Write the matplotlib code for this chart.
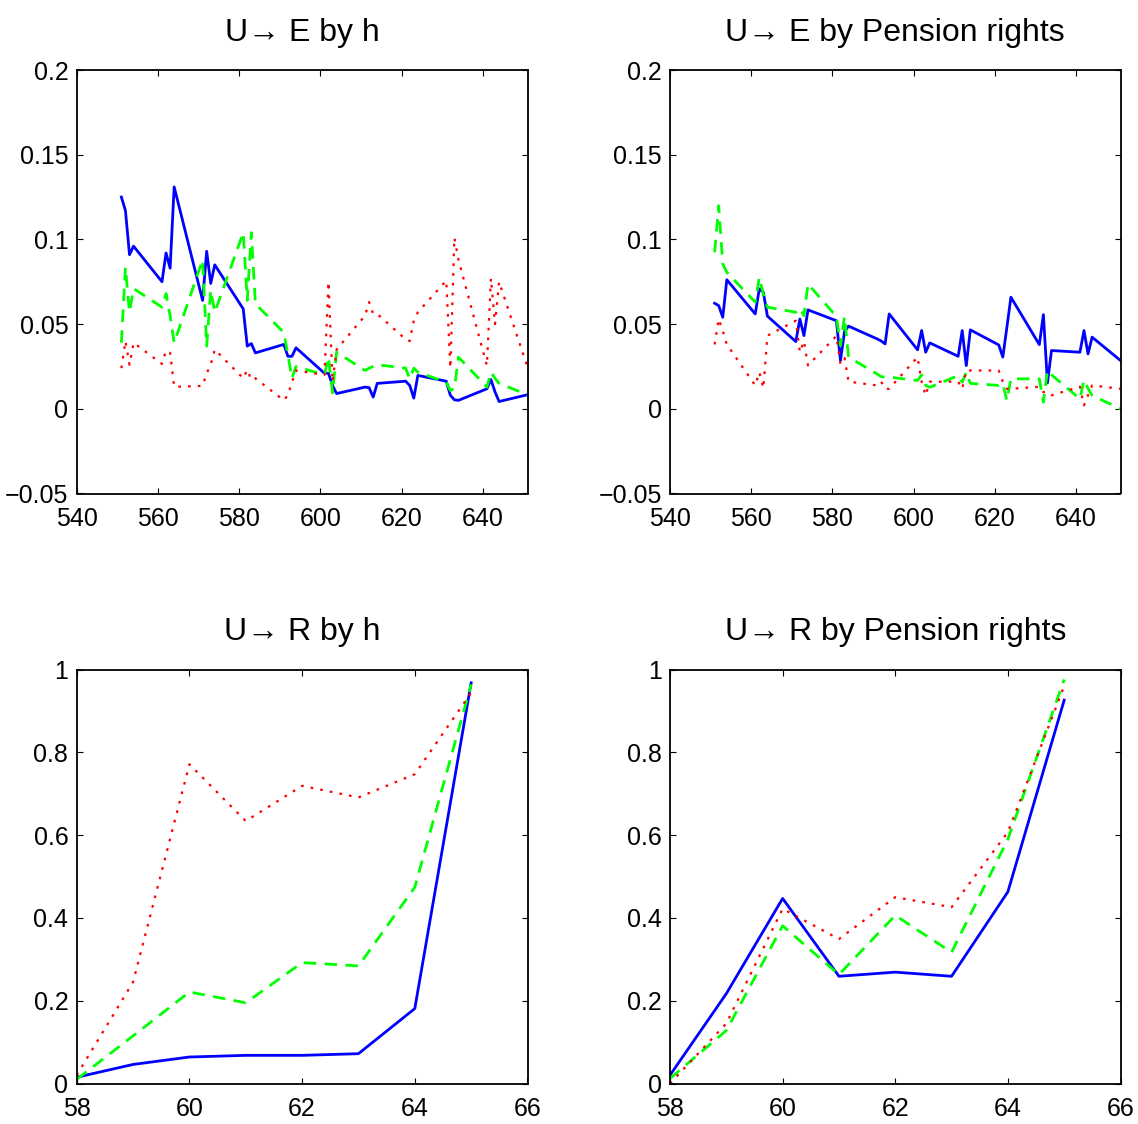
import matplotlib
matplotlib.use("Agg")
import matplotlib.pyplot as plt
import numpy as np

plt.rcParams.update({"font.family": ["Liberation Sans Narrow", "Liberation Sans", "DejaVu Sans"],
                     "font.size": 18, "axes.linewidth": 1.3,
                     "xtick.direction": "in", "ytick.direction": "in",
                     "xtick.top": True, "ytick.right": True,
                     "xtick.major.size": 4, "ytick.major.size": 4})

# ── top panels: duration (months) ─────────────────────────────────────
months = [551, 552, 553, 554, 561, 562, 563, 564, 571, 572, 573, 574,
          581, 582, 583, 584, 591, 592, 593, 594, 601, 602, 603, 604,
          611, 612, 613, 614, 621, 622, 623, 624, 631, 632, 633, 634,
          641, 642, 643, 644, 651]

ue_h_blue = [0.125, 0.117, 0.091, 0.096, 0.075, 0.092, 0.083, 0.131, 0.064, 0.093, 0.074, 0.085,
             0.059, 0.037, 0.0385, 0.033, 0.038, 0.031, 0.031, 0.036, 0.021, 0.021, 0.0137, 0.009,
             0.0128, 0.0125, 0.0069, 0.015, 0.0163, 0.0138, 0.0063, 0.0197, 0.0163, 0.008, 0.0053, 0.005,
             0.0118, 0.0173, 0.010, 0.0043, 0.0083]
ue_h_green = [0.039, 0.0835, 0.057, 0.071, 0.060, 0.068, 0.055, 0.039, 0.088, 0.037, 0.070, 0.057,
              0.104, 0.064, 0.104, 0.062, 0.045, 0.032, 0.018, 0.025, 0.020, 0.0305, 0.0094, 0.0334,
              0.0226, 0.024, 0.025, 0.026, 0.024, 0.0177, 0.024, 0.0216, 0.0157, 0.0108, 0.012, 0.0305,
              0.0128, 0.0216, 0.018, 0.015, 0.0083]
ue_h_red = [0.024, 0.040, 0.026, 0.039, 0.0265, 0.0344, 0.033, 0.013, 0.0135, 0.021, 0.026, 0.035,
            0.018, 0.023, 0.017, 0.018, 0.005, 0.008, 0.0157, 0.0226, 0.020, 0.075, 0.016, 0.035,
            0.055, 0.063, 0.056, 0.056, 0.041, 0.040, 0.052, 0.057, 0.0757, 0.024, 0.101, 0.088,
            0.0255, 0.077, 0.050, 0.075, 0.0246]

ue_p_blue = [0.0623, 0.0609, 0.054, 0.0762, 0.056, 0.0708, 0.0688, 0.0547, 0.0397, 0.053, 0.0432, 0.0584,
             0.052, 0.0285, 0.0456, 0.0488, 0.0413, 0.0401, 0.0383, 0.056, 0.0348, 0.0462, 0.0334, 0.0389,
             0.031, 0.0462, 0.0255, 0.0466, 0.0377, 0.0305, 0.048, 0.0659, 0.0379, 0.0556, 0.0153, 0.0344,
             0.0334, 0.0462, 0.0324, 0.0423, 0.0285]
ue_p_green = [0.0924, 0.1199, 0.0855, 0.0806, 0.063, 0.0776, 0.0678, 0.060, 0.057, 0.0594, 0.055, 0.0737,
              0.0545, 0.0373, 0.0545, 0.0305, 0.0206, 0.019, 0.0187, 0.0187, 0.0167, 0.020, 0.0138, 0.0127,
              0.0196, 0.0157, 0.0216, 0.015, 0.0138, 0.015, 0.0049, 0.0177, 0.0177, 0.0039, 0.0226, 0.020,
              0.0059, 0.017, 0.012, 0.0079, 0.0]
ue_p_red = [0.038, 0.053, 0.046, 0.038, 0.0138, 0.0216, 0.0122, 0.0432, 0.052, 0.0334, 0.040, 0.0256,
            0.043, 0.0265, 0.030, 0.016, 0.0138, 0.016, 0.0118, 0.0118, 0.0305, 0.016, 0.0079, 0.016,
            0.016, 0.0118, 0.0226, 0.0226, 0.0226, 0.016, 0.0118, 0.0118, 0.013, 0.0098, 0.0098, 0.008,
            0.013, 0.002, 0.008, 0.0138, 0.0118]

# ── bottom panels: age ────────────────────────────────────────────────
ages = [58, 59, 60, 61, 62, 63, 64, 65]
ur_h_blue = [0.015, 0.046, 0.064, 0.068, 0.068, 0.072, 0.181, 0.968]
ur_h_green = [0.010, 0.115, 0.221, 0.195, 0.292, 0.284, 0.474, 0.964]
ur_h_red = [0.020, 0.245, 0.771, 0.634, 0.719, 0.691, 0.747, 0.944]
ur_p_blue = [0.020, 0.217, 0.447, 0.259, 0.269, 0.259, 0.463, 0.926]
ur_p_green = [0.012, 0.128, 0.381, 0.263, 0.406, 0.317, 0.590, 0.976]
ur_p_red = [0.000, 0.145, 0.422, 0.349, 0.450, 0.426, 0.607, 0.960]

titles = ["U\u2192 E by h", "U\u2192 E by Pension rights", "U\u2192 R by h", "U\u2192 R by Pension rights"]

W, H = 1138, 1124
fig = plt.figure(figsize=(W / 100, H / 100), dpi=100)
boxes = [(76.7, 70, 527.5, 493.5), (670, 70, 1120.5, 493.5),
         (76.7, 669.5, 527.5, 1083.5), (670, 669.5, 1120.5, 1083.5)]
axes = [fig.add_axes([l / W, 1 - b / H, (r - l) / W, (b - t) / H]) for l, t, r, b in boxes]

DOT = (0, (1.2, 3.2))
DASH = (0, (4.5, 3.0))
series = [(months, ue_h_blue, ue_h_green, ue_h_red),
          (months, ue_p_blue, ue_p_green, ue_p_red),
          (ages, ur_h_blue, ur_h_green, ur_h_red),
          (ages, ur_p_blue, ur_p_green, ur_p_red)]
for i, (ax, (x, b, g, r)) in enumerate(zip(axes, series)):
    ax.plot(x, b, color="#0000ff", lw=2.0, ls="-")
    ax.plot(x, g, color="#00ff00", lw=2.0, ls=DASH)
    ax.plot(x, r, color="#ff0000", lw=1.6, ls=DOT)
    ax.set_title(titles[i], fontsize=23, pad=21)
    if i < 2:
        ax.set_xlim(540, 651); ax.set_ylim(-0.05, 0.2)
        ax.set_xticks([540, 560, 580, 600, 620, 640])
        ax.set_yticks([-0.05, 0, 0.05, 0.1, 0.15, 0.2])
        ax.set_yticklabels(["\u22120.05", "0", "0.05", "0.1", "0.15", "0.2"])
    else:
        ax.set_xlim(58, 66); ax.set_ylim(0, 1)
        ax.set_xticks([58, 60, 62, 64, 66])
        ax.set_yticks([0, 0.2, 0.4, 0.6, 0.8, 1])
        ax.set_yticklabels(["0", "0.2", "0.4", "0.6", "0.8", "1"])
    ax.tick_params(axis="y", labelsize=18, pad=6)
    ax.tick_params(axis="x", labelsize=18, pad=10)

fig.savefig("out.png", dpi=100)
